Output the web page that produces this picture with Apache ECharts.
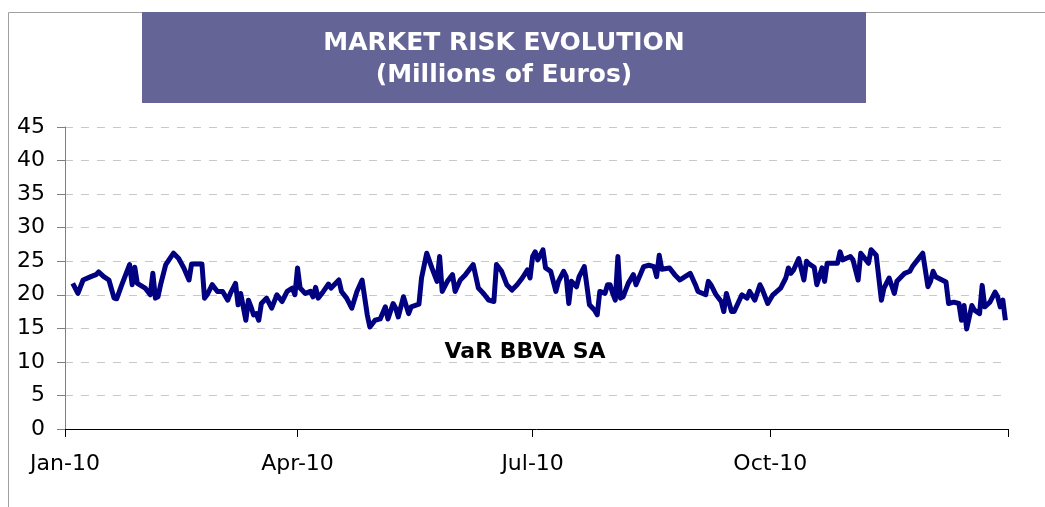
<!DOCTYPE html>
<html>
<head>
<meta charset="utf-8">
<title>Market risk evolution</title>
<script src="https://cdn.jsdelivr.net/npm/echarts@6/dist/echarts.min.js"></script>
<style>
  html, body { margin: 0; padding: 0; background: #fff; }
  #chart { width: 1045px; height: 507px; }
</style>
</head>
<body>
<div id="chart"></div>
<script>
// daily VaR 2010 (month-day, millions of euros)
const year = 2010
const days = [
  '01-04','01-06','01-08','01-11','01-13','01-14','01-16','01-18','01-20','01-21',
  '01-23','01-26','01-27','01-28','01-29','02-01','02-03','02-04','02-05','02-06',
  '02-07','02-09','02-12','02-14','02-16','02-18','02-19','02-23','02-24','02-25',
  '02-27','03-01','03-03','03-05','03-06','03-08','03-09','03-10','03-12','03-13',
  '03-14','03-15','03-16','03-17','03-18','03-20','03-22','03-24','03-26','03-28',
  '03-30','03-31','04-01','04-02','04-04','04-06','04-07','04-08','04-09','04-11',
  '04-13','04-14','04-17','04-18','04-20','04-22','04-24','04-26','04-28','04-29',
  '05-01','05-03','05-05','05-06','05-08','05-09','05-10','05-12','05-14','05-15',
  '05-18','05-19','05-21','05-23','05-25','05-26','05-27','05-29','05-31','06-01',
  '06-03','06-05','06-08','06-10','06-12','06-14','06-16','06-17','06-19','06-21',
  '06-23','06-25','06-27','06-29','06-30','07-01','07-02','07-03','07-05','07-06',
  '07-08','07-10','07-11','07-13','07-14','07-15','07-16','07-18','07-19','07-21',
  '07-23','07-25','07-26','07-27','07-29','07-30','07-31','08-01','08-02','08-03',
  '08-04','08-05','08-07','08-09','08-10','08-13','08-15','08-17','08-18','08-19',
  '08-20','08-23','08-25','08-27','08-29','08-31','09-02','09-03','09-06','09-07',
  '09-08','09-10','09-12','09-13','09-14','09-16','09-17','09-20','09-22','09-23',
  '09-25','09-27','09-28','09-30','10-02','10-05','10-07','10-08','10-09','10-10',
  '10-12','10-14','10-15','10-16','10-18','10-19','10-21','10-22','10-23','10-27',
  '10-28','10-29','11-01','11-02','11-04','11-05','11-07','11-08','11-09','11-11',
  '11-13','11-14','11-16','11-18','11-19','11-22','11-24','11-25','11-27','11-29',
  '12-01','12-02','12-03','12-04','12-08','12-09','12-11','12-13','12-14','12-15',
  '12-16','12-18','12-19','12-21','12-22','12-23','12-25','12-27','12-28','12-29',
  '12-30','12-31'
]
const varBBVA = [
  21.7,20.2,22.2,22.7,23.0,23.4,22.7,22.2,19.5,19.4,
  21.5,24.5,21.5,24.1,21.7,21.0,20.0,23.2,19.5,19.7,
  21.5,24.5,26.2,25.4,24.0,22.2,24.6,24.6,19.5,20.0,
  21.5,20.5,20.5,19.2,20.2,21.7,18.5,20.2,16.2,19.2,
  18.2,17.0,17.2,16.2,18.7,19.5,18.0,20.0,19.0,20.5,
  21.0,20.0,24.0,21.0,20.2,20.5,19.7,21.1,19.5,20.5,
  21.6,21.0,22.2,20.5,19.5,18.0,20.5,22.2,17.0,15.2,
  16.2,16.4,18.2,16.4,18.7,18.0,16.7,19.7,17.2,18.2,
  18.6,22.5,26.2,24.0,22.0,25.7,20.5,22.0,23.0,20.5,
  22.2,23.0,24.5,21.0,20.2,19.2,19.0,24.5,23.5,21.5,
  20.7,21.5,22.5,23.7,22.5,25.7,26.4,25.2,26.7,24.0,
  23.5,20.5,22.0,23.5,22.7,18.7,22.0,21.2,22.7,24.2,
  18.5,17.7,17.0,20.5,20.2,21.5,21.5,20.2,19.2,25.7,
  19.5,19.7,21.7,23.0,21.5,24.2,24.4,24.2,22.7,25.9,
  23.8,24.0,23.0,22.2,22.7,23.2,21.5,20.5,20.0,22.0,
  21.5,20.0,19.0,17.5,20.2,17.5,17.5,20.0,19.5,20.5,
  19.2,21.5,20.7,18.7,20.0,21.0,22.5,24.0,23.2,23.7,
  25.4,22.2,25.0,24.6,24.1,21.5,24.0,22.0,24.7,24.7,
  26.4,25.2,25.7,25.2,22.2,26.2,25.2,24.7,26.7,25.9,
  19.2,21.0,22.5,20.2,22.0,23.2,23.5,24.2,25.2,26.2,
  21.2,22.0,23.5,22.7,21.9,18.7,18.9,18.7,16.2,18.4,
  14.9,18.4,17.7,17.2,21.4,18.2,18.9,20.4,19.7,18.2,
  19.2,16.2
]

// quarter ticks on the x axis
const tickDates = ['2010-01-01', '2010-04-01', '2010-07-01', '2010-10-01', '2011-01-01']
const tickLabels = ['Jan-10', 'Apr-10', 'Jul-10', 'Oct-10']

const titleLines = ['MARKET RISK EVOLUTION', '(Millions of Euros)']
const seriesName = 'VaR BBVA SA'

const toTime = s => {
  const p = s.split('-')
  return new Date(+p[0], +p[1] - 1, +p[2]).getTime()
}
const tickTimes = tickDates.map(toTime)
const lineData = days.map((d, i) => [toTime(year + '-' + d), varBBVA[i]])

const font = 'DejaVu Sans'

const option = {
  animation: false,
  backgroundColor: '#fff',
  grid: { left: 65, right: 37, top: 127, bottom: 78 },
  graphic: [
    {
      type: 'rect', silent: true,
      shape: { x: 8.5, y: 12.5, width: 1100, height: 600 },
      style: { fill: 'none', stroke: '#a0a0a0', lineWidth: 1 }
    },
    {
      type: 'rect', silent: true,
      shape: { x: 142, y: 12, width: 724, height: 91 },
      style: { fill: '#646497' }
    },
    {
      type: 'text', silent: true, x: 504, y: 43,
      style: {
        text: titleLines[0], fill: '#fff', align: 'center', verticalAlign: 'middle',
        font: 'bold 25px "' + font + '"'
      }
    },
    {
      type: 'text', silent: true, x: 504, y: 75,
      style: {
        text: titleLines[1], fill: '#fff', align: 'center', verticalAlign: 'middle',
        font: 'bold 25px "' + font + '"'
      }
    },
    {
      type: 'text', silent: true, x: 525, y: 352,
      style: {
        text: seriesName, fill: '#000', align: 'center', verticalAlign: 'middle',
        font: 'bold 22px "' + font + '"'
      }
    }
  ],
  xAxis: {
    type: 'value',
    min: tickTimes[0],
    max: tickTimes[tickTimes.length - 1],
    axisLine: { lineStyle: { color: '#000', width: 1 } },
    axisTick: { show: true, length: 8, lineStyle: { color: '#000' }, customValues: tickTimes },
    axisLabel: {
      customValues: tickTimes.slice(0, tickLabels.length),
      formatter: v => tickLabels[tickTimes.indexOf(v)] || '',
      color: '#000', fontFamily: font, fontSize: 22, margin: 24
    },
    splitLine: { show: false }
  },
  yAxis: {
    type: 'value',
    min: 0, max: 45, interval: 5,
    axisLine: { show: true, lineStyle: { color: '#808080' } },
    axisTick: { show: true, length: 8, lineStyle: { color: '#808080' } },
    axisLabel: { color: '#000', fontFamily: font, fontSize: 22, margin: 20 },
    splitLine: { show: true, lineStyle: { color: '#c8c8c8', type: [8, 8] } }
  },
  series: [
    {
      name: seriesName,
      type: 'line',
      data: lineData,
      showSymbol: false,
      symbol: 'none',
      lineStyle: { color: '#000080', width: 5, join: 'round' }
    }
  ]
}

const chart = echarts.init(document.getElementById('chart'))
chart.setOption(option)
</script>
</body>
</html>
